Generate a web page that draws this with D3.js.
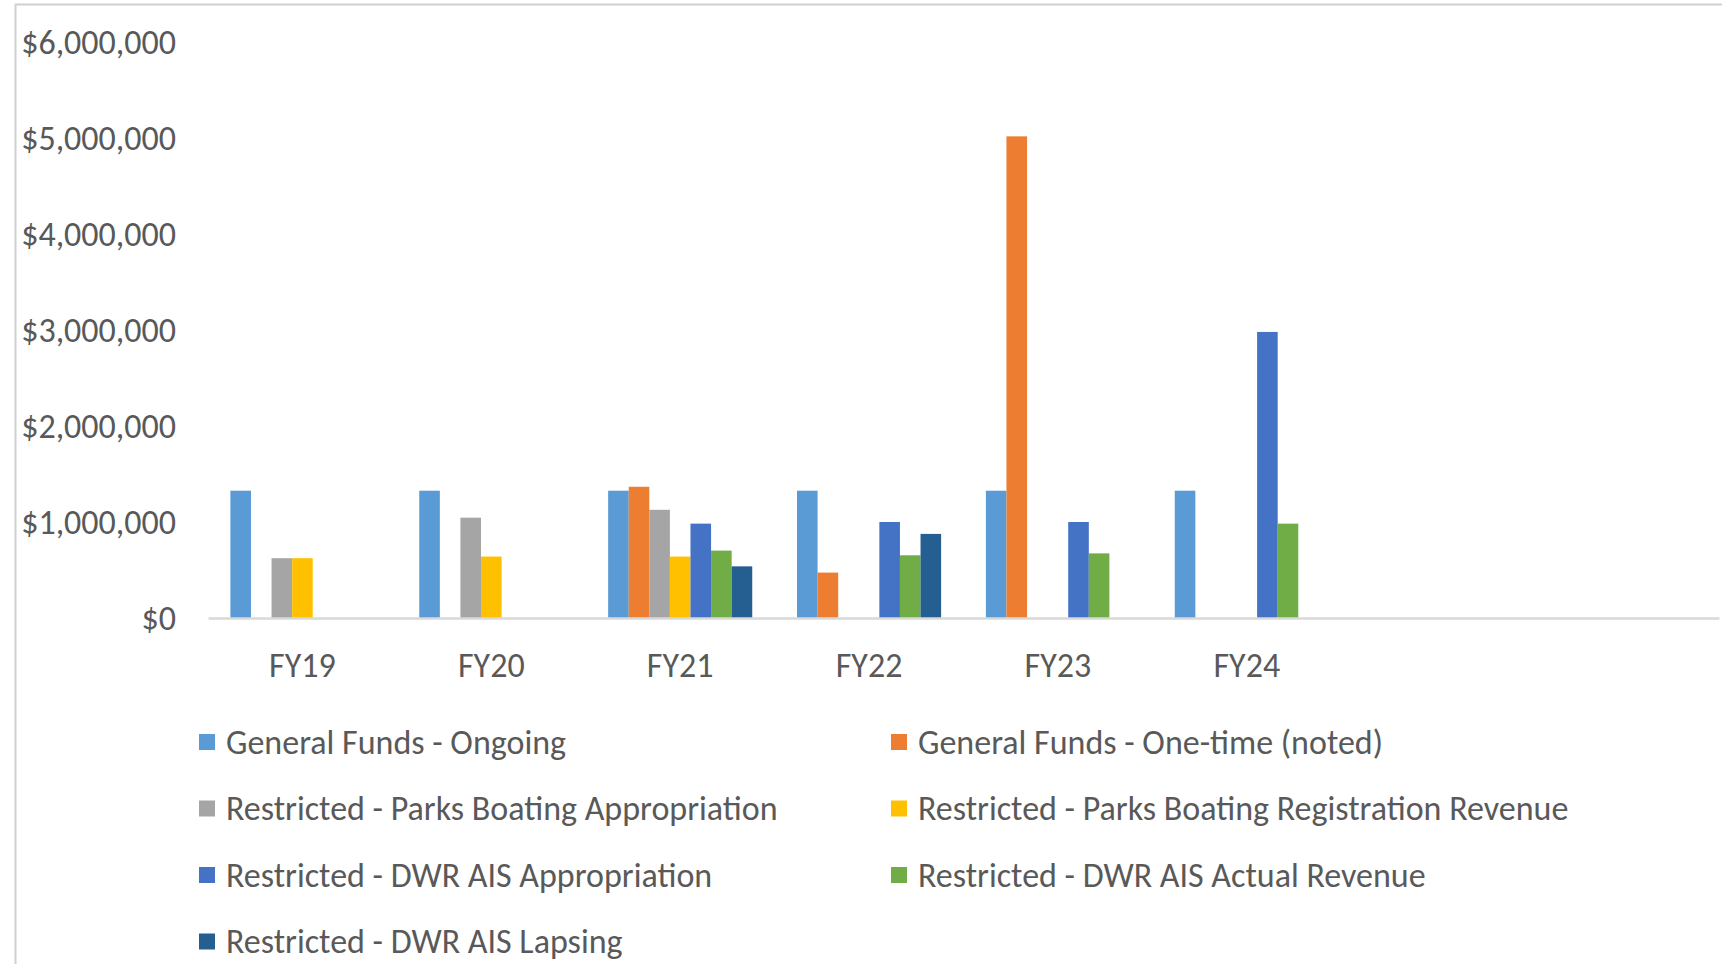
<!DOCTYPE html>
<html>
<head>
<meta charset="utf-8">
<script src="https://cdn.jsdelivr.net/npm/d3@7"></script>
<style>
  html, body { margin: 0; padding: 0; background: #ffffff; }
  svg { display: block; }
  text { font-family: Carlito, Calibri, Lato, "Open Sans", sans-serif; fill: #595959; }
</style>
</head>
<body>
<svg id="chart" width="1722" height="964"></svg>
<script>
// ---- data ----
const categories = ["FY19", "FY20", "FY21", "FY22", "FY23", "FY24", "", ""];
const yTicks = [0, 1000000, 2000000, 3000000, 4000000, 5000000, 6000000];

const seriesNames = [
  "General Funds - Ongoing",
  "General Funds - One-time (noted)",
  "Restricted - Parks Boating Appropriation",
  "Restricted - Parks Boating Registration Revenue",
  "Restricted - DWR AIS Appropriation",
  "Restricted - DWR AIS Actual Revenue",
  "Restricted - DWR AIS Lapsing"
];
const seriesColors = ["#5B9BD5", "#ED7D31", "#A5A5A5", "#FFC000", "#4472C4", "#70AD47", "#255E91"];

const generalOngoing   = [1326000, 1326000, 1326000, 1326000, 1326000, 1326000];
const generalOneTime   = [0, 0, 1367000, 473000, 5017000, 0];
const parksAppropriation = [623000, 1045000, 1127000, 0, 0, 0];
const parksRevenue     = [623000, 640000, 640000, 0, 0, 0];
const dwrAppropriation = [0, 0, 983000, 1000000, 1000000, 2980000];
const dwrActualRevenue = [0, 0, 702000, 653000, 673000, 983000];
const dwrLapsing       = [0, 0, 538000, 876000, 0, 0];

const seriesValues = [generalOngoing, generalOneTime, parksAppropriation, parksRevenue,
                      dwrAppropriation, dwrActualRevenue, dwrLapsing];

// ---- layout ----
const svg = d3.select("#chart");
const W = 1722, H = 964;
const plot = { left: 208, right: 1719, top: 42, bottom: 618 };
const FONT = 34;

// frame lines (image border)
svg.append("line").attr("x1", 15).attr("x2", W).attr("y1", 4.5).attr("y2", 4.5)
  .attr("stroke", "#d0d0d0").attr("stroke-width", 2);
svg.append("line").attr("x1", 15.5).attr("x2", 15.5).attr("y1", 4).attr("y2", H)
  .attr("stroke", "#d0d0d0").attr("stroke-width", 2);

const x0 = d3.scaleBand()
  .domain(d3.range(categories.length))
  .range([plot.left, plot.right])
  .paddingInner(0).paddingOuter(0);

const groupFrac = 0.763;
const x1 = d3.scaleBand()
  .domain(d3.range(seriesNames.length))
  .range([0, x0.bandwidth() * groupFrac])
  .padding(0);

const y = d3.scaleLinear().domain([0, 6000000]).range([plot.bottom, plot.top]);

// bars
const groupOffset = (x0.bandwidth() * (1 - groupFrac)) / 2;
seriesValues.forEach((vals, si) => {
  svg.append("g")
    .selectAll("rect")
    .data(vals.map((v, ci) => ({ v, ci })).filter(d => d.v > 0))
    .join("rect")
    .attr("x", d => x0(d.ci) + groupOffset + x1(si))
    .attr("width", x1.bandwidth())
    .attr("y", d => y(d.v))
    .attr("height", d => y(0) - y(d.v))
    .attr("fill", seriesColors[si]);
});

// baseline / x axis
const xAxis = d3.axisBottom(x0).tickSize(0).tickPadding(0).tickFormat(i => categories[i]);
const gx = svg.append("g").attr("transform", `translate(0,${y(0)})`).call(xAxis);
gx.attr("font-family", null).attr("font-size", null);
gx.select(".domain").attr("stroke", "#d9d9d9").attr("stroke-width", 2.5);
gx.selectAll("text")
  .attr("y", 47.5)
  .attr("dy", "0.35em")
  .attr("font-size", FONT)
  .attr("fill", "#595959");

// y axis labels
const fmt = d3.format("$,.0f");
const yAxis = d3.axisLeft(y).tickValues(yTicks).tickSize(0).tickPadding(0).tickFormat(d => fmt(d));
const gy = svg.append("g").attr("transform", `translate(176,0)`).call(yAxis);
gy.attr("font-family", null).attr("font-size", null);
gy.select(".domain").remove();
gy.selectAll("text")
  .attr("font-size", FONT)
  .attr("fill", "#595959")
  .attr("dy", "0.35em");

// legend
const legendCols = [199, 891];
const legendRows = [742, 808.5, 875, 941.5];
const lg = svg.append("g");
seriesNames.forEach((name, i) => {
  const col = i % 2, row = Math.floor(i / 2);
  const g = lg.append("g").attr("transform", `translate(${legendCols[col]},${legendRows[row]})`);
  g.append("rect").attr("x", 0).attr("y", -8).attr("width", 16).attr("height", 16).attr("fill", seriesColors[i]);
  g.append("text").attr("x", 27).attr("y", 0).attr("dy", "0.35em")
    .attr("font-size", FONT).text(name);
});
</script>
</body>
</html>
